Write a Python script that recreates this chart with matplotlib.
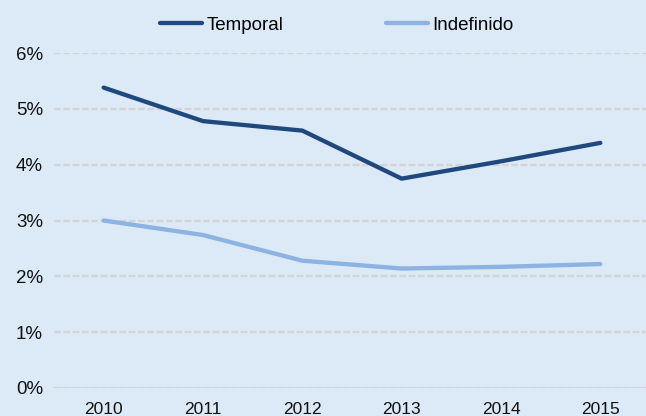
import matplotlib
matplotlib.use("Agg")
import matplotlib.pyplot as plt
from matplotlib.ticker import FuncFormatter

years = ["2010", "2011", "2012", "2013", "2014", "2015"]
temporal = [5.38, 4.78, 4.61, 3.75, 4.06, 4.39]
indefinido = [3.00, 2.74, 2.28, 2.14, 2.17, 2.22]

bg = "#dce9f6"
plt.rcParams['font.family'] = ['Liberation Sans', 'DejaVu Sans']

fig = plt.figure(figsize=(6.46, 4.16), dpi=100, facecolor=bg)
ax = fig.add_axes([54 / 646, 28 / 416, 596 / 646, 335 / 416])
ax.set_facecolor(bg)

x = range(len(years))
ax.plot(x, temporal, color="#1f497d", lw=3.1, label="Temporal", solid_capstyle="round")
ax.plot(x, indefinido, color="#8db3e2", lw=3.1, label="Indefinido", solid_capstyle="round")

ax.set_xlim(-0.5, 5.5)
ax.set_ylim(0, 6)
ax.set_yticks(range(7))
ax.yaxis.set_major_formatter(FuncFormatter(lambda v, p: f"{int(v)}%"))
ax.set_xticks(list(x))
ax.set_xticklabels(years)
ax.tick_params(length=0, colors="#111111")
ax.tick_params(axis="x", labelsize=12.5, pad=10)
ax.tick_params(axis="y", labelsize=13.5, pad=8)
ax.grid(axis="y", color="#d4d4d4", lw=1.6, ls=(0, (3, 1.2)))
ax.axhline(0, color="#d4d4d4", lw=1.8)
for s in ax.spines.values():
    s.set_visible(False)

fig.legend(loc="center", bbox_to_anchor=(337 / 646, 1 - 25 / 416), ncol=2, frameon=False,
           fontsize=13.5, handlelength=2.2, columnspacing=5.5, handletextpad=0.25,
           borderaxespad=0, borderpad=0)

fig.savefig("out.png", dpi=100, facecolor=bg)
